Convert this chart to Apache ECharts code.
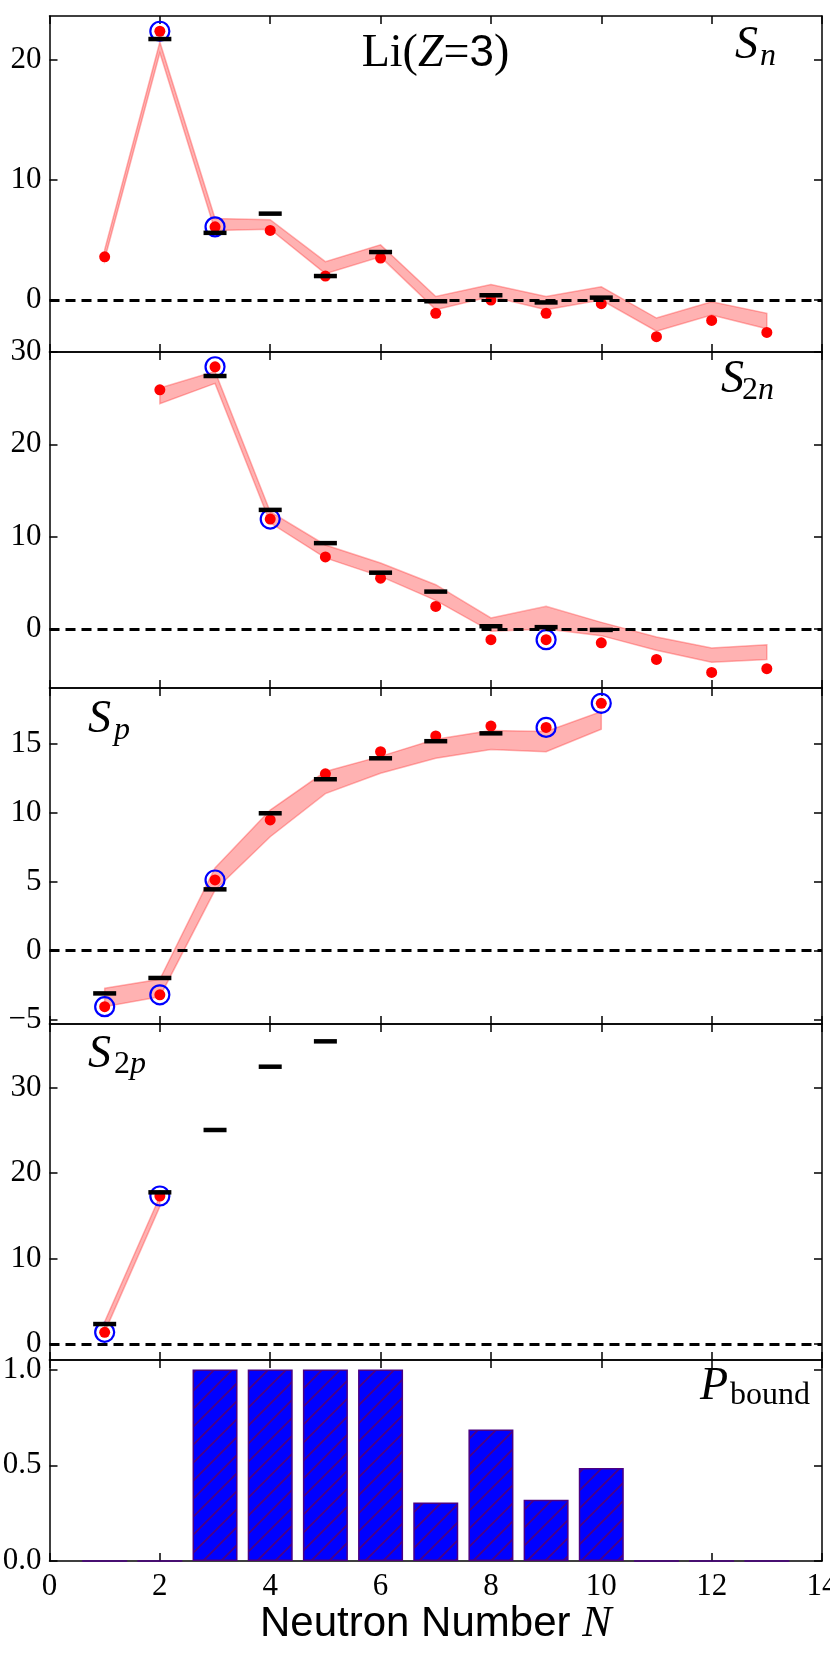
<!DOCTYPE html>
<html>
<head>
<meta charset="utf-8">
<script src="https://cdn.jsdelivr.net/npm/echarts@6.0.0/dist/echarts.min.js"></script>
<style>
html, body { margin: 0; padding: 0; background: #ffffff; }
#chart { width: 830px; height: 1661px; }
</style>
</head>
<body>
<div id="chart"></div>
<script>
// neutron numbers
var nAll = [1, 2, 3, 4, 5, 6, 7, 8, 9, 10, 11, 12, 13];

// S_n
var snModel = [3.6, 22.4, 6.1, 5.8, 2.0, 3.5, -1.1, 0.0, -1.1, -0.3, -3.05, -1.7, -2.7];
var snLo = [3.4, 20.6, 5.8, 5.9, 2.2, 3.6, -0.8, 0.3, -0.8, 0.0, -2.6, -1.25, -2.4];
var snHi = [4.2, 21.5, 6.8, 6.7, 3.2, 4.6, 0.3, 1.3, 0.3, 1.1, -1.5, -0.15, -1.1];
var snFrdmN = [2, 3, 4, 5, 6, 7, 8, 9, 10];
var snFrdm = [21.75, 5.6, 7.2, 2.0, 4.0, -0.1, 0.4, -0.2, 0.2];
var snExpN = [2, 3];
var snExp = [22.4, 6.1];

// S_2n
var s2nN = [2, 3, 4, 5, 6, 7, 8, 9, 10, 11, 12, 13];
var s2nModel = [25.9, 28.4, 11.9, 7.8, 5.5, 2.45, -1.16, -1.16, -1.5, -3.3, -4.7, -4.3];
var s2nLo = [24.4, 26.6, 11.5, 7.7, 5.7, 3.1, -0.25, 0.0, -0.72, -2.3, -3.6, -3.3];
var s2nHi = [26.1, 27.9, 12.7, 9.1, 7.15, 4.8, 1.2, 2.45, 0.72, -0.87, -2.06, -1.7];
var s2nFrdmN = [3, 4, 5, 6, 7, 8, 9, 10];
var s2nFrdm = [27.4, 12.9, 9.3, 6.1, 4.05, 0.3, 0.2, -0.1];
var s2nExpN = [3, 4, 9];
var s2nExp = [28.4, 11.9, -1.16];

// S_p
var spN = [1, 2, 3, 4, 5, 6, 7, 8, 9, 10];
var spModel = [-4.06, -3.2, 5.13, 9.49, 12.83, 14.44, 15.58, 16.3, 16.2, 17.95];
var spLo = [-4.06, -3.34, 4.4, 8.27, 11.4, 12.87, 13.96, 14.6, 14.44, 16.07];
var spHi = [-2.73, -2.08, 6.0, 10.2, 13.0, 14.1, 15.34, 15.97, 15.9, 17.35];
var spFrdmN = [1, 2, 3, 4, 5, 6, 7, 8];
var spFrdm = [-3.1, -1.98, 4.45, 9.97, 12.44, 13.96, 15.2, 15.77];
var spExpN = [1, 2, 3, 9, 10];
var spExp = [-4.06, -3.2, 5.13, 16.2, 17.95];

// S_2p
var s2pN = [1, 2];
var s2pModel = [1.37, 17.33];
var s2pLo = [1.4, 16.1];
var s2pHi = [2.6, 17.3];
var s2pFrdmN = [1, 2, 3, 4, 5];
var s2pFrdm = [2.34, 17.76, 25.06, 32.47, 35.44];
var s2pExpN = [1, 2];
var s2pExp = [1.37, 17.33];

// P_bound
var pBound = [0, 0, 1, 1, 1, 1, 0.305, 0.687, 0.32, 0.486, 0, 0, 0];

// tick values
var xTicks = [0, 2, 4, 6, 8, 10, 12, 14];
var snTicks = [0, 10, 20];
var s2nTicks = [0, 10, 20, 30];
var spTicks = [-5, 0, 5, 10, 15];
var s2pTicks = [0, 10, 20, 30];
var pTicks = [0, 0.5, 1.0];

var pairs = function (xs, ys) {
    return xs.map(function (x, i) { return [x, ys[i]]; });
};

var minus = function (v) {
    return String(v).replace('-', '\u2212');
};

var serif = '"Liberation Serif", "DejaVu Serif", serif';
var sans = '"Liberation Sans", "DejaVu Sans", sans-serif';

/* layout of the five stacked panels */
var panels = [
    { top: 16, height: 336, min: -4.33, max: 23.67, ticks: snTicks,
      n: nAll, model: snModel, lo: snLo, hi: snHi,
      frdmN: snFrdmN, frdm: snFrdm, expN: snExpN, exp: snExp },
    { top: 352, height: 336, min: -6.39, max: 30, ticks: s2nTicks,
      n: s2nN, model: s2nModel, lo: s2nLo, hi: s2nHi,
      frdmN: s2nFrdmN, frdm: s2nFrdm, expN: s2nExpN, exp: s2nExp },
    { top: 688, height: 336, min: -5.32, max: 19.06, ticks: spTicks,
      n: spN, model: spModel, lo: spLo, hi: spHi,
      frdmN: spFrdmN, frdm: spFrdm, expN: spExpN, exp: spExp },
    { top: 1024, height: 336, min: -1.87, max: 37.47, ticks: s2pTicks,
      n: s2pN, model: s2pModel, lo: s2pLo, hi: s2pHi,
      frdmN: s2pFrdmN, frdm: s2pFrdm, expN: s2pExpN, exp: s2pExp },
    { top: 1360, height: 201, min: 0, max: 1.05, ticks: pTicks, bars: true }
];

/* blue hatch fill for the bound probability bars */
var hatch = document.createElement('canvas');
hatch.width = 18;
hatch.height = 18;
var hc = hatch.getContext('2d');
hc.fillStyle = '#0000ff';
hc.fillRect(0, 0, 18, 18);
hc.strokeStyle = '#4b0082';
hc.lineWidth = 1.7;
hc.beginPath();
hc.moveTo(-2, 20); hc.lineTo(20, -2);
hc.moveTo(-2, 2); hc.lineTo(2, -2);
hc.moveTo(16, 20); hc.lineTo(20, 16);
hc.stroke();

var axisLineStyle = { color: '#000', width: 1.5 };

var grids = [], xAxes = [], yAxes = [], series = [];

panels.forEach(function (p, i) {
    var last = i === panels.length - 1;
    grids.push({ left: 49.5, width: 772.5, top: p.top, height: p.height,
                 outerBoundsMode: 'none' });

    // bottom and top x axes
    xAxes.push({
        gridIndex: i, type: 'value', position: 'bottom', min: 0, max: 14,
        axisLine: { show: true, onZero: false, lineStyle: axisLineStyle },
        axisTick: { show: true, inside: true, length: 8, customValues: xTicks, lineStyle: axisLineStyle },
        axisLabel: { show: last, customValues: xTicks, fontFamily: serif, fontSize: 31, color: '#000', margin: 10 },
        splitLine: { show: false },
        name: last ? '{s|Neutron Number }{i|N}' : '',
        nameLocation: 'middle',
        nameGap: 38,
        nameTextStyle: {
            rich: {
                s: { fontFamily: sans, fontSize: 42, color: '#000' },
                i: { fontFamily: serif, fontStyle: 'italic', fontSize: 44, color: '#000' }
            }
        }
    });
    xAxes.push({
        gridIndex: i, type: 'value', position: 'top', min: 0, max: 14,
        axisLine: { show: true, onZero: false, lineStyle: axisLineStyle },
        axisTick: { show: true, inside: true, length: 8, customValues: xTicks, lineStyle: axisLineStyle },
        axisLabel: { show: false },
        splitLine: { show: false }
    });

    // left and right y axes
    yAxes.push({
        gridIndex: i, type: 'value', position: 'left', min: p.min, max: p.max,
        axisLine: { show: true, onZero: false, lineStyle: axisLineStyle },
        axisTick: { show: true, inside: true, length: 8, customValues: p.ticks, lineStyle: axisLineStyle },
        axisLabel: {
            show: true, customValues: p.ticks, fontFamily: serif, fontSize: 31, color: '#000', margin: 8,
            formatter: p.bars ? function (v) { return v.toFixed(1); } : minus
        },
        splitLine: { show: false }
    });
    yAxes.push({
        gridIndex: i, type: 'value', position: 'right', min: p.min, max: p.max,
        axisLine: { show: true, onZero: false, lineStyle: axisLineStyle },
        axisTick: { show: true, inside: true, length: 8, customValues: p.ticks, lineStyle: axisLineStyle },
        axisLabel: { show: false },
        splitLine: { show: false }
    });

    var xi = 2 * i, yi = 2 * i;

    if (p.bars) {
        series.push({
            type: 'bar', xAxisIndex: xi, yAxisIndex: yi, silent: true,
            data: pairs(nAll, pBound),
            barWidth: 45,
            itemStyle: {
                color: { image: hatch, repeat: 'repeat' },
                borderColor: '#4b0082', borderWidth: 1.5, opacity: 1
            }
        });
        return;
    }

    // uncertainty band
    series.push({
        type: 'custom', xAxisIndex: xi, yAxisIndex: yi, silent: true, z: 1,
        data: p.n.map(function (n, k) { return [n, p.lo[k], p.hi[k]]; }),
        encode: { x: 0, y: [1, 2] },
        renderItem: function (params, api) {
            if (params.dataIndex !== 0) return null;
            var pts = [];
            p.n.forEach(function (n, k) { pts.push(api.coord([n, p.hi[k]])); });
            for (var k = p.n.length - 1; k >= 0; k--) pts.push(api.coord([p.n[k], p.lo[k]]));
            return {
                type: 'polygon',
                shape: { points: pts },
                style: { fill: 'rgba(255,0,0,0.3)', stroke: 'rgba(255,40,40,0.35)', lineWidth: 1.5 }
            };
        }
    });

    // zero reference line
    series.push({
        type: 'scatter', xAxisIndex: xi, yAxisIndex: yi, silent: true, z: 2,
        data: [],
        markLine: {
            silent: true, symbol: 'none', animation: false, label: { show: false },
            lineStyle: { color: '#000', width: 2.8, type: [10, 6], opacity: 1 },
            data: [{ yAxis: 0 }]
        }
    });

    // model predictions
    series.push({
        type: 'scatter', xAxisIndex: xi, yAxisIndex: yi, silent: true, z: 3,
        data: pairs(p.n, p.model), symbol: 'circle', symbolSize: 11,
        itemStyle: { color: '#ff0000', opacity: 1 }
    });

    // experimental values
    series.push({
        type: 'scatter', xAxisIndex: xi, yAxisIndex: yi, silent: true, z: 4,
        data: pairs(p.expN, p.exp), symbol: 'circle', symbolSize: 19,
        itemStyle: { color: 'rgba(0,0,0,0)', borderColor: '#0000ff', borderWidth: 2.2, opacity: 1 }
    });

    // mass model values
    series.push({
        type: 'scatter', xAxisIndex: xi, yAxisIndex: yi, silent: true, z: 5,
        data: pairs(p.frdmN, p.frdm), symbol: 'rect', symbolSize: [23, 4.5],
        itemStyle: { color: '#000000', opacity: 1 }
    });
});

var mainFont = 'italic 46px ' + serif;
var subFont = 'italic 32px ' + serif;
var subRoman = '32px ' + serif;

var label = function (x, y, text, font) {
    return { type: 'text', x: x, y: y, silent: true,
             style: { text: text, font: font, fill: '#000', align: 'left', verticalAlign: 'middle' } };
};

var graphics = [
    { type: 'text', x: 435.5, y: 54, silent: true,
      style: {
          text: '{r|Li(}{i|Z}{r|=}{s|3}{r|)}', align: 'center', verticalAlign: 'middle',
          rich: {
              r: { fontFamily: serif, fontSize: 46, color: '#000' },
              i: { fontFamily: serif, fontSize: 46, fontStyle: 'italic', color: '#000' },
              s: { fontFamily: sans, fontSize: 44, color: '#000' }
          }
      } },
    label(735, 46, 'S', mainFont),
    label(760, 57, 'n', subFont),
    label(721, 380, 'S', mainFont),
    label(742, 391, '2', subRoman),
    label(758, 391, 'n', subFont),
    label(88, 720, 'S', mainFont),
    label(114, 731, 'p', subFont),
    label(88, 1055, 'S', mainFont),
    label(114, 1065, '2', subRoman),
    label(130, 1065, 'p', subFont),
    label(700, 1387, 'P', mainFont),
    label(730, 1396, 'bound', subRoman)
];

var chart = echarts.init(document.getElementById('chart'));
chart.setOption({
    animation: false,
    backgroundColor: '#ffffff',
    grid: grids,
    xAxis: xAxes,
    yAxis: yAxes,
    series: series,
    graphic: graphics
});
</script>
</body>
</html>
